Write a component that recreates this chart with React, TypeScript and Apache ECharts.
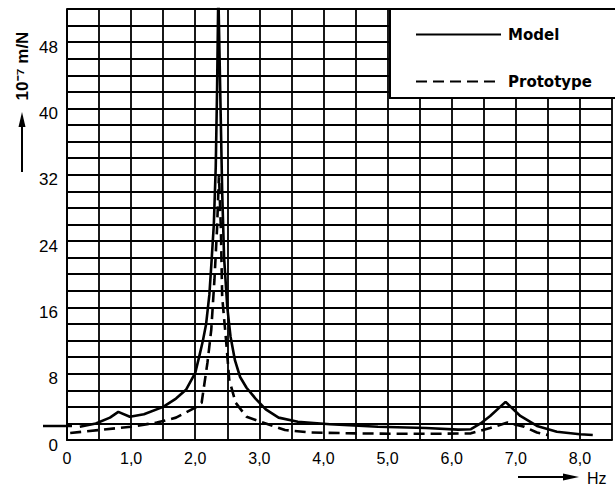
import React, { useEffect, useRef } from "react";
import * as echarts from "echarts";

// Model (solid) – frequency [Hz] and receptance [10^-7 m/N]
const modelFreq = [0.2, 0.45, 0.67, 0.8, 0.98, 1.2, 1.5, 1.7, 1.86, 2.0, 2.06, 2.12, 2.17, 2.22, 2.25, 2.29, 2.32, 2.34, 2.36, 2.39, 2.42, 2.45, 2.5, 2.55, 2.62, 2.7, 2.8, 2.94, 3.1, 3.3, 3.6, 4.1, 4.85, 5.6, 6.1, 6.3, 6.45, 6.6, 6.84, 7.07, 7.33, 7.64, 8.0, 8.2];
const modelVal = [1.6, 2.0, 2.7, 3.4, 2.8, 3.1, 4.0, 5.0, 6.1, 8.1, 10.0, 12.0, 14.0, 17.5, 21.0, 26.0, 33.0, 42.0, 54.0, 42.0, 30.0, 22.0, 16.0, 12.5, 9.6, 7.6, 6.3, 5.0, 3.7, 2.7, 2.2, 1.9, 1.6, 1.45, 1.25, 1.3, 2.0, 2.9, 4.6, 2.9, 1.7, 1.0, 0.7, 0.6];

// Prototype (dashed)
const protoFreq = [0.05, 0.5, 1.0, 1.4, 1.7, 2.0, 2.1, 2.19, 2.25, 2.3, 2.34, 2.37, 2.4, 2.42, 2.48, 2.53, 2.63, 2.8, 3.1, 3.4, 3.8, 4.5, 5.2, 5.8, 6.3, 6.6, 6.87, 7.13, 7.33, 7.5];
const protoVal = [0.85, 1.2, 1.6, 2.1, 2.7, 3.9, 4.5, 9.3, 13.3, 19.4, 25.5, 32.0, 25.5, 17.3, 12.1, 7.3, 4.5, 2.8, 2.0, 1.2, 0.9, 0.8, 0.75, 0.75, 0.8, 1.45, 2.1, 1.6, 0.9, 0.6];

const xTicks = [0, 1, 2, 3, 4, 5, 6, 7, 8];
const yTicks = [0, 8, 16, 24, 32, 40, 48];

const FONT = "'Liberation Sans', Arial, sans-serif";

export default function App() {
  const ref = useRef<HTMLDivElement>(null);
  useEffect(() => {
    const chart = echarts.init(ref.current!, null, { renderer: "svg" });
    chart.setOption({
      animation: false,
      backgroundColor: "#fff",
      grid: { left: 67, right: 0, top: 9, bottom: 48, containLabel: false },
      xAxis: {
        type: "value",
        min: 0,
        max: 8.5,
        interval: 0.5,
        axisLine: { show: true, lineStyle: { color: "#000", width: 2 } },
        axisTick: { show: false },
        splitLine: { show: true, lineStyle: { color: "#000", width: 1.8 } },
        axisLabel: {
          margin: 10,
          color: "#000",
          fontFamily: FONT,
          fontSize: 16,
          formatter: (v: number) =>
            xTicks.includes(v) ? (v === 0 ? "0" : v.toFixed(1).replace(".", ",")) : "",
        },
      },
      yAxis: {
        type: "value",
        min: 0,
        max: 52,
        interval: 2,
        axisLine: { show: true, lineStyle: { color: "#000", width: 2 } },
        axisTick: { show: false },
        splitLine: { show: true, lineStyle: { color: "#000", width: 1.8 } },
        axisLabel: {
          margin: 9,
          color: "#000",
          fontFamily: FONT,
          fontSize: 17,
          verticalAlign: "top",
          lineHeight: 10,
          formatter: (v: number) => (yTicks.includes(v) ? String(v) : ""),
        },
      },
      legend: {
        left: 390,
        top: 9,
        orient: "vertical",
        z: 200,
        padding: [18, 10, 10, 25],
        itemWidth: 85,
        itemHeight: 14,
        itemGap: 32,
        selectedMode: false,
        itemStyle: { opacity: 0 },
        textStyle: {
          fontFamily: "'DejaVu Sans', sans-serif",
          fontWeight: "bold",
          fontSize: 15,
          color: "#000",
          padding: [0, 0, 0, 2],
        },
        data: ["Model", "Prototype"],
      },
      graphic: [
        {
          type: "rect",
          z: 100,
          shape: { x: 390, y: 9, width: 230, height: 89 },
          style: { fill: "#fff", stroke: "#000", lineWidth: 2 },
        },
        {
          type: "line",
          shape: { x1: 43, y1: 426, x2: 72, y2: 426 },
          style: { stroke: "#000", lineWidth: 2.5 },
        },
        {
          type: "text",
          x: 22,
          y: 66,
          rotation: Math.PI / 2,
          style: {
            text: "10⁻⁷ m/N",
            fontFamily: FONT,
            fontWeight: "bold",
            fontSize: 17,
            fill: "#000",
            align: "center",
            verticalAlign: "middle",
          },
        },
        {
          type: "line",
          shape: { x1: 22, y1: 172, x2: 22, y2: 124 },
          style: { stroke: "#000", lineWidth: 2 },
        },
        {
          type: "polygon",
          shape: { points: [[22, 112], [18.5, 127], [25.5, 127]] },
          style: { fill: "#000" },
        },
        {
          type: "line",
          shape: { x1: 518, y1: 477, x2: 566, y2: 477 },
          style: { stroke: "#000", lineWidth: 1.8 },
        },
        {
          type: "polygon",
          shape: { points: [[579, 477], [563, 473.5], [563, 480.5]] },
          style: { fill: "#000" },
        },
        {
          type: "text",
          x: 587,
          y: 478,
          style: {
            text: "Hz",
            fontFamily: FONT,
            fontSize: 16,
            fill: "#000",
            align: "left",
            verticalAlign: "middle",
          },
        },
      ],
      series: [
        {
          name: "Model",
          type: "line",
          symbol: "none",
          z: 5,
          lineStyle: { color: "#000", width: 2.6 },
          itemStyle: { color: "#000" },
          data: modelFreq.map((f, i) => [f, modelVal[i]]),
        },
        {
          name: "Prototype",
          type: "line",
          symbol: "none",
          z: 5,
          lineStyle: { color: "#000", width: 2.6, type: [11, 6] },
          itemStyle: { color: "#000" },
          data: protoFreq.map((f, i) => [f, protoVal[i]]),
        },
      ],
    });
    return () => chart.dispose();
  }, []);
  return (
    <div
      ref={ref}
      style={{ position: "absolute", left: 0, top: 0, width: 615, height: 488, background: "#fff" }}
    />
  );
}
